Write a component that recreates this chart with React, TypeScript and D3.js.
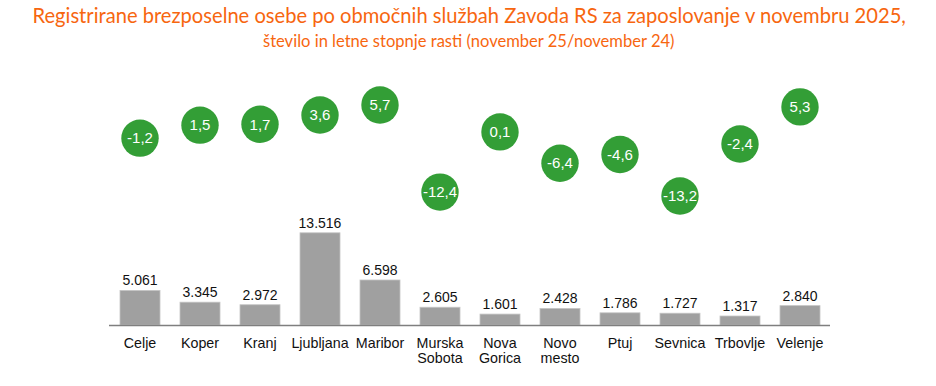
import { useLayoutEffect, useRef, useState } from "react";
import * as d3 from "d3";

const categories = [
  "Celje", "Koper", "Kranj", "Ljubljana", "Maribor", "Murska Sobota",
  "Nova Gorica", "Novo mesto", "Ptuj", "Sevnica", "Trbovlje", "Velenje",
];
const unemployed = [5061, 3345, 2972, 13516, 6598, 2605, 1601, 2428, 1786, 1727, 1317, 2840];
const growth = [-1.2, 1.5, 1.7, 3.6, 5.7, -12.4, 0.1, -6.4, -4.6, -13.2, -2.4, 5.3];

const title1 = "Registrirane brezposelne osebe po območnih službah Zavoda RS za zaposlovanje v novembru 2025,";
const title2 = "število in letne stopnje rasti (november 25/november 24)";

const W = 936;
const H = 386;
const orange = "#F7660F";
const green = "#339E36";
const font = "'Liberation Sans', Arial, sans-serif";
const titleFont = "Lato, 'Open Sans', sans-serif";

const fmtInt = (v: number) => d3.format(",")(v).replace(/,/g, ".");
// hyphen minus like the original, not d3's unicode minus
const fmtDec = (v: number) => v.toFixed(1).replace(".", ",");

// squeeze a text horizontally to a given width (the original uses a narrow font)
const FitText = ({ x, y, width, size, children }: any) => {
  const ref = useRef<SVGTextElement>(null);
  const [sx, setSx] = useState(1);
  useLayoutEffect(() => {
    const w = ref.current!.getComputedTextLength();
    if (w > 0) setSx(width / w);
  }, [width, children]);
  return (
    <text ref={ref} transform={`translate(${x},${y}) scale(${sx},1)`} fontFamily={titleFont}
      fontSize={size} fill={orange}>{children}</text>
  );
};

export default function App() {
  const x = d3.scaleBand<string>()
    .domain(categories)
    .range([110, 830])
    .paddingInner(1 / 3)
    .paddingOuter(1 / 6);

  const y = d3.scaleLinear().domain([0, 14000]).range([325, 229.5]);
  const yg = d3.scaleLinear().domain([-15, 10]).range([204.6, 84.25]);

  return (
    <svg width={W} height={H} style={{ position: "absolute", left: 0, top: 0, background: "#fff" }}>
      <FitText x={32.5} y={23} width={874} size={21}>{title1}</FitText>
      <FitText x={263} y={46.7} width={412} size={16.5}>{title2}</FitText>

      {categories.map((c, i) => (
        <g key={c}>
          <rect x={x(c)} y={y(unemployed[i])} width={x.bandwidth()} height={y(0) - y(unemployed[i])}
            fill="#A0A0A0" stroke="#C4C4C4" strokeWidth={0.8} />
          <text x={x(c)! + x.bandwidth() / 2} y={y(unemployed[i]) - 5} textAnchor="middle"
            fontFamily={font} fontSize={14} fill="#111">{fmtInt(unemployed[i])}</text>
          <text x={x(c)! + x.bandwidth() / 2} y={348.3} textAnchor="middle"
            fontFamily={font} fontSize={14.3} fill="#111">
            {c.split(" ").map((w, j) => (
              <tspan key={j} x={x(c)! + x.bandwidth() / 2} dy={j === 0 ? 0 : 15}>{w}</tspan>
            ))}
          </text>
          <circle cx={x(c)! + x.bandwidth() / 2} cy={yg(growth[i])} r={18.7} fill={green} />
          <text x={x(c)! + x.bandwidth() / 2} y={yg(growth[i]) + 5.3} textAnchor="middle"
            fontFamily={font} fontSize={15} fill="#fff">{fmtDec(growth[i])}</text>
        </g>
      ))}

      <line x1={109} x2={830} y1={y(0) + 0.5} y2={y(0) + 0.5} stroke="#7F7F7F" strokeWidth={1.5} />
    </svg>
  );
}
